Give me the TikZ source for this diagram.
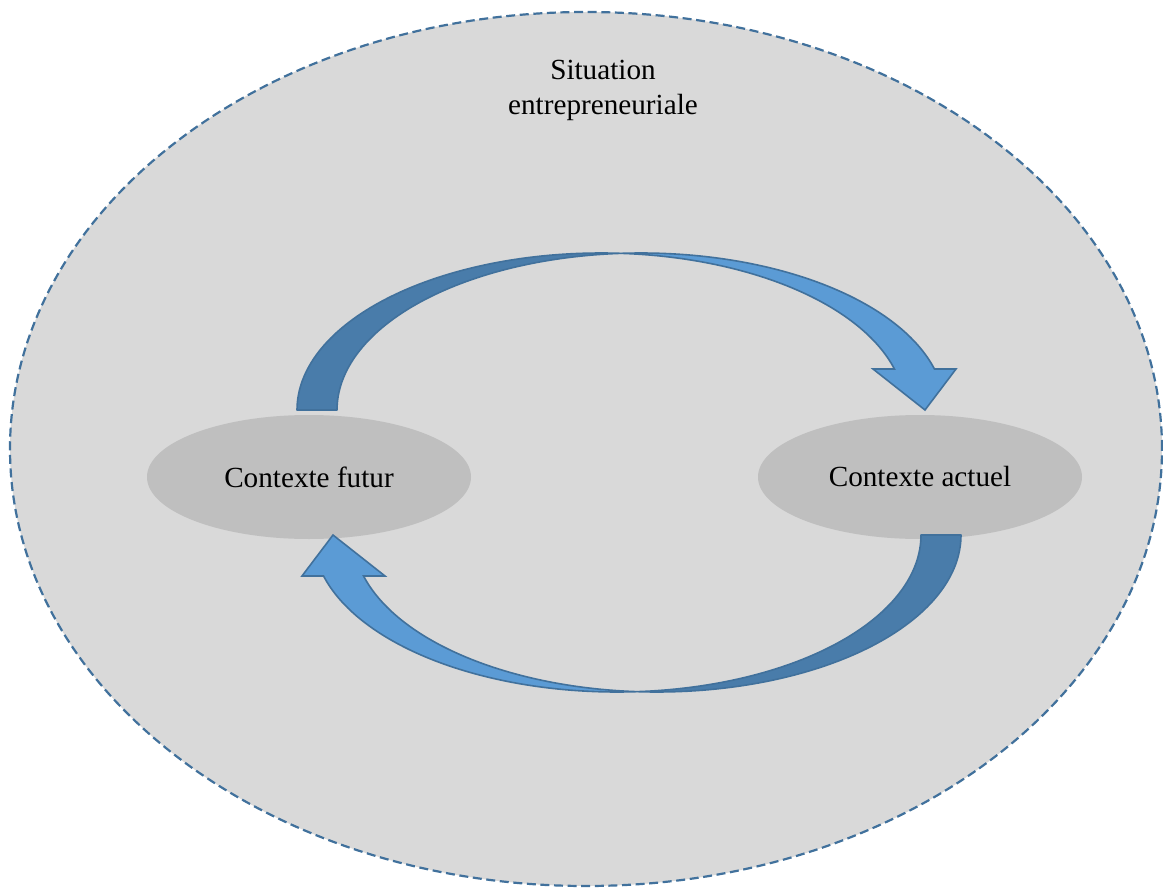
\documentclass[tikz,border=0pt]{standalone}
\usepackage{fontspec}
\setmainfont{Liberation Serif}
\usetikzlibrary{shapes.geometric}
\definecolor{panelfill}{HTML}{D9D9D9}
\definecolor{ctxfill}{HTML}{BFBFBF}
\definecolor{edgeblue}{HTML}{41719C}
\definecolor{frontblue}{HTML}{5B9BD5}
\definecolor{backblue}{HTML}{497CAA}

% One curved arrow: shaded back face near the tail, lit front face up to the head
\newcommand\cyclearrow{%
  \draw[backface]
    plot[domain=180:86.23, samples=70, variable=\t] ({601+304*cos(\t)}, {410-157*sin(\t)})
    -- plot[domain=93.77:180, samples=70, variable=\t] ({641+304*cos(\t)}, {410-157*sin(\t)})
    -- cycle;
  \draw[frontface]
    plot[domain=93.77:15.14, samples=70, variable=\t] ({641+304*cos(\t)}, {410-157*sin(\t)})
    -- (956,369) -- (925,410) -- (873,369)
    -- plot[domain=15.14:86.23, samples=70, variable=\t] ({601+304*cos(\t)}, {410-157*sin(\t)})
    -- cycle;
}

\begin{document}
\begin{tikzpicture}[x=0.5pt,y=-0.5pt,
  sitnode/.style={ellipse, draw=edgeblue, fill=panelfill, line width=1.1pt,
    dash pattern=on 4.5pt off 2.3pt, inner sep=0pt,
    minimum width=576pt, minimum height=437pt},
  ctxnode/.style={ellipse, fill=ctxfill, inner sep=0pt,
    minimum width=162pt, minimum height=62pt},
  labeltext/.style={font=\fontsize{14.6}{17.5}\selectfont},
  backface/.style={fill=backblue, draw=edgeblue, line width=0.8pt, line join=round},
  frontface/.style={fill=frontblue, draw=edgeblue, line width=0.8pt, line join=miter},
]
\useasboundingbox (0,0) rectangle (1163,888);

\node[sitnode] (sit) at (586,449) {};
\node[labeltext, align=center] (sitlabel) at (603,90) {Situation\\entrepreneuriale};

\node[ctxnode, labeltext] (futur) at (309,477) {Contexte futur};
\node[ctxnode, labeltext] (actuel) at (920,477) {Contexte actuel};

% upper arrow: futur -> actuel
\cyclearrow
% lower arrow: actuel -> futur, the same shape turned half a turn
\begin{scope}[rotate around={180:(629,472.5)}]
  \cyclearrow
\end{scope}
\end{tikzpicture}
\end{document}
